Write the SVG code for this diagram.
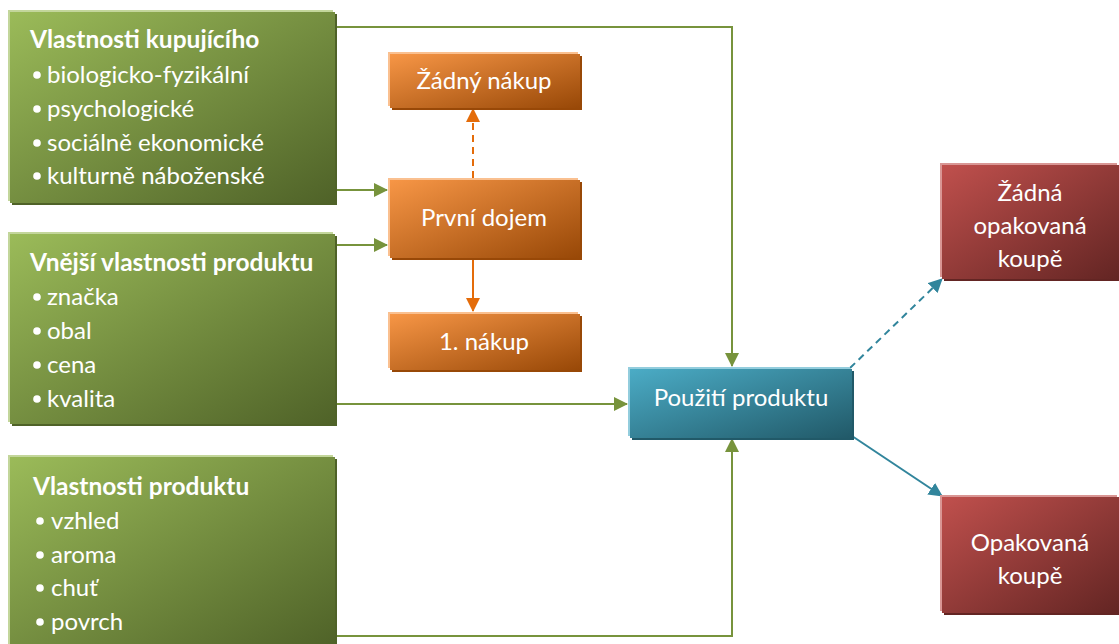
<svg xmlns="http://www.w3.org/2000/svg" width="1119" height="644" viewBox="0 0 1119 644">
<style>
text{font-family:Lato,"Open Sans","Liberation Sans",sans-serif;fill:#fff;font-size:24px}
.t{font-weight:bold;font-size:24.5px}
.c{text-anchor:middle}
.dot{fill:#fff}
.g{stroke:#77933c;stroke-width:2;fill:none}
.o{stroke:#e46c0a;stroke-width:2;fill:none}
.b{stroke:#31859c;stroke-width:2;fill:none}
.d{stroke-dasharray:7 5}
</style>
<defs>
<linearGradient id="gG" x1="0" y1="0" x2="1" y2="1"><stop offset="0" stop-color="#9bbb59"/><stop offset="1" stop-color="#4f6228"/></linearGradient>
<linearGradient id="gO" x1="0" y1="0" x2="1" y2="1"><stop offset="0" stop-color="#f79646"/><stop offset="1" stop-color="#984807"/></linearGradient>
<linearGradient id="gB" x1="0" y1="0" x2="1" y2="1"><stop offset="0" stop-color="#4bacc6"/><stop offset="1" stop-color="#215968"/></linearGradient>
<linearGradient id="gR" x1="0" y1="0" x2="1" y2="1"><stop offset="0" stop-color="#c0504d"/><stop offset="1" stop-color="#632523"/></linearGradient>
<marker id="mG" markerWidth="14" markerHeight="14" refX="13" refY="7" orient="auto" markerUnits="userSpaceOnUse"><path d="M0,0 L14,7 L0,14 Z" fill="#77933c"/></marker>
<marker id="mO" markerWidth="14" markerHeight="14" refX="13" refY="7" orient="auto" markerUnits="userSpaceOnUse"><path d="M0,0 L14,7 L0,14 Z" fill="#e46c0a"/></marker>
<marker id="mB" markerWidth="14" markerHeight="14" refX="13" refY="7" orient="auto" markerUnits="userSpaceOnUse"><path d="M0,0 L14,7 L0,14 Z" fill="#31859c"/></marker>
</defs>
<rect width="1119" height="644" fill="#fff"/>

<g id="connectors">
<polyline class="g" points="335,27 732,27 732,366" marker-end="url(#mG)"/>
<polyline class="g" points="335,404 627,404" marker-end="url(#mG)"/>
<polyline class="g" points="335,636 732,636 732,439" marker-end="url(#mG)"/>
<polyline class="g" points="335,190 387,190" marker-end="url(#mG)"/>
<polyline class="g" points="335,245 387,245" marker-end="url(#mG)"/>
<line class="o d" x1="473" y1="178" x2="473" y2="109" marker-end="url(#mO)"/>
<line class="o" x1="473" y1="258" x2="473" y2="311" marker-end="url(#mO)"/>
<line class="b d" x1="850" y1="368" x2="942" y2="279" marker-end="url(#mB)"/>
<line class="b" x1="852" y1="436" x2="942" y2="496" marker-end="url(#mB)"/>
</g>

<g id="kupujici">
<rect x="12" y="14" width="325" height="191" fill="#4f6228"/>
<rect x="8" y="10" width="325" height="191" fill="#c3d69b"/>
<rect x="10" y="12" width="325" height="191" fill="url(#gG)"/>
<text class="t" x="30" y="48">Vlastnosti kupujícího</text>
<circle class="dot" cx="37" cy="75" r="3.8"/><text x="47" y="83">biologicko-fyzikální</text>
<circle class="dot" cx="37" cy="109" r="3.8"/><text x="47" y="117">psychologické</text>
<circle class="dot" cx="37" cy="143" r="3.8"/><text x="47" y="151">sociálně ekonomické</text>
<circle class="dot" cx="37" cy="176" r="3.8"/><text x="47" y="184">kulturně náboženské</text>
</g>

<g id="vnejsi">
<rect x="12" y="236" width="325" height="190" fill="#4f6228"/>
<rect x="8" y="232" width="325" height="190" fill="#c3d69b"/>
<rect x="10" y="234" width="325" height="190" fill="url(#gG)"/>
<text class="t" x="30" y="271">Vnější vlastnosti produktu</text>
<circle class="dot" cx="37" cy="297" r="3.8"/><text x="47" y="305">značka</text>
<circle class="dot" cx="37" cy="331" r="3.8"/><text x="47" y="339">obal</text>
<circle class="dot" cx="37" cy="365" r="3.8"/><text x="47" y="373">cena</text>
<circle class="dot" cx="37" cy="399" r="3.8"/><text x="47" y="407">kvalita</text>
</g>

<g id="produkt">
<rect x="12" y="459" width="325" height="190" fill="#4f6228"/>
<rect x="8" y="455" width="325" height="190" fill="#c3d69b"/>
<rect x="10" y="457" width="325" height="190" fill="url(#gG)"/>
<text class="t" x="33" y="495">Vlastnosti produktu</text>
<circle class="dot" cx="40" cy="521" r="3.8"/><text x="51" y="529">vzhled</text>
<circle class="dot" cx="40" cy="555" r="3.8"/><text x="51" y="563">aroma</text>
<circle class="dot" cx="40" cy="588" r="3.8"/><text x="51" y="596">chuť</text>
<circle class="dot" cx="40" cy="622" r="3.8"/><text x="51" y="630">povrch</text>
</g>

<g id="zadny-nakup">
<rect x="392" y="56" width="190" height="54" fill="#984807"/>
<rect x="388" y="52" width="190" height="54" fill="#fac090"/>
<rect x="390" y="54" width="190" height="54" fill="url(#gO)"/>
<text class="c" x="484" y="89">Žádný nákup</text>
</g>

<g id="prvni-dojem">
<rect x="392" y="182" width="190" height="78" fill="#984807"/>
<rect x="388" y="178" width="190" height="78" fill="#fac090"/>
<rect x="390" y="180" width="190" height="78" fill="url(#gO)"/>
<text class="c" x="484" y="226">První dojem</text>
</g>

<g id="nakup1">
<rect x="392" y="316" width="190" height="56" fill="#984807"/>
<rect x="388" y="312" width="190" height="56" fill="#fac090"/>
<rect x="390" y="314" width="190" height="56" fill="url(#gO)"/>
<text class="c" x="484" y="350">1. nákup</text>
</g>

<g id="pouziti">
<rect x="632" y="371" width="222" height="69" fill="#215968"/>
<rect x="628" y="367" width="222" height="69" fill="#93cddd"/>
<rect x="630" y="369" width="222" height="69" fill="url(#gB)"/>
<text class="c" x="741" y="406">Použití produktu</text>
</g>

<g id="zadna-opakovana">
<rect x="944" y="167" width="177" height="114" fill="#632523"/>
<rect x="940" y="163" width="177" height="114" fill="#d99694"/>
<rect x="942" y="165" width="177" height="114" fill="url(#gR)"/>
<text class="c" x="1030" y="201">Žádná</text>
<text class="c" x="1030" y="234">opakovaná</text>
<text class="c" x="1030" y="267">koupě</text>
</g>

<g id="opakovana">
<rect x="944" y="499" width="177" height="116" fill="#632523"/>
<rect x="940" y="495" width="177" height="116" fill="#d99694"/>
<rect x="942" y="497" width="177" height="116" fill="url(#gR)"/>
<text class="c" x="1030" y="551">Opakovaná</text>
<text class="c" x="1030" y="584">koupě</text>
</g>
</svg>
